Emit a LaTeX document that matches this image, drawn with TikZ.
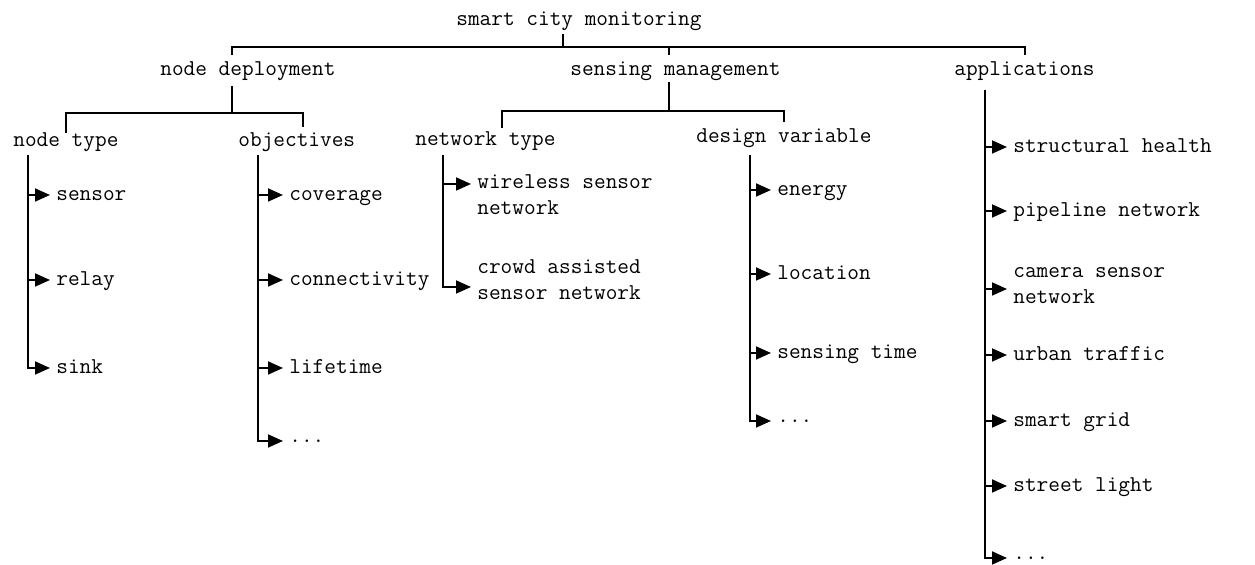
\documentclass[tikz,border=0pt]{standalone}
\usepackage{fontspec}
\usetikzlibrary{arrows.meta}
\begin{document}
\begin{tikzpicture}[x=0.5pt,y=-0.5pt,
 lbl/.style={inner sep=0pt, anchor=west, font=\ttfamily\fontsize{11.33}{13}\selectfont, text height=7.5pt, text depth=2.2pt},
 lbl2/.style={inner sep=0pt, anchor=west, font=\ttfamily\fontsize{11.33}{13}\selectfont, align=left},
 dotsnode/.style={inner sep=0pt, anchor=west, font=\ttfamily\fontsize{11.33}{13}\selectfont, text height=1.2pt, text depth=0pt},
 ln/.style={line width=0.9pt},
 arr/.style={ln, -{Triangle[length=7.5pt,width=6.5pt]}}]
\useasboundingbox[fill=white] (0,0) rectangle (1255,565);
% level 0/1
\node[lbl] (root) at (456,20) {smart city monitoring};
\node[lbl] (nd) at (160,70) {node deployment};
\node[lbl] (sm) at (570,70) {sensing management};
\node[lbl] (app) at (954,70) {applications};
% level 2
\node[lbl] (nt) at (13,141) {node type};
\node[lbl] (obj) at (238,141) {objectives};
\node[lbl] (nwt) at (415,140) {network type};
\node[lbl] (dv) at (696,137) {design variable};
% leaves
\node[lbl] (sensor) at (56,195) {sensor};
\node[lbl] (relay) at (56,280) {relay};
\node[lbl] (sink) at (56,368) {sink};
\node[lbl] (cov) at (289,195) {coverage};
\node[lbl] (con) at (289,280) {connectivity};
\node[lbl] (life) at (289,368) {lifetime};
\node[dotsnode] (dotsA) at (289,441) {...};
\node[lbl2] (wsn) at (477,195) {wireless sensor\\network};
\node[lbl2] (csn) at (477,280) {crowd assisted\\sensor network};
\node[lbl] (energy) at (777,190) {energy};
\node[lbl] (loc) at (777,274) {location};
\node[lbl] (st) at (777,353) {sensing time};
\node[dotsnode] (dotsB) at (777,421) {...};
\node[lbl] (sh) at (1013,147) {structural health};
\node[lbl] (pipe) at (1013,211) {pipeline network};
\node[lbl2] (cam) at (1013,286) {camera sensor\\network};
\node[lbl] (urban) at (1013,355) {urban traffic};
\node[lbl] (grid) at (1013,421) {smart grid};
\node[lbl] (light) at (1013,486) {street light};
\node[dotsnode] (dotsC) at (1013,558) {...};
% junction coordinates
\coordinate (rJ) at (563,47);
\coordinate (ndTop) at (232,55);
\coordinate (smTop) at (669,55);
\coordinate (appTop) at (1025,55);
\coordinate (ndJ) at (232,113);
\coordinate (ntTop) at (66,133);
\coordinate (objTop) at (303,127);
\coordinate (smJ) at (669,111);
\coordinate (nwtTop) at (502,128);
\coordinate (dvTop) at (784,122);
\coordinate (ntT) at (28,155);
\coordinate (objT) at (258,155);
\coordinate (nwtT) at (443,155);
\coordinate (dvT) at (750,155);
\coordinate (appT) at (985,90);
% tree lines
\draw[ln] ([yshift=-2pt]root.south -| rJ) -- (rJ);
\draw[ln] (ndTop) -- (ndTop |- rJ) -- (appTop |- rJ) -- (appTop);
\draw[ln] (smTop |- rJ) -- (smTop);
\draw[ln] ([yshift=-3pt]nd.south -| ndJ) -- (ndJ);
\draw[ln] (ntTop) -- (ntTop |- ndJ) -- (objTop |- ndJ) -- (objTop);
\draw[ln] ([yshift=-1pt]sm.south -| smJ) -- (smJ);
\draw[ln] (nwtTop) -- (nwtTop |- smJ) -- (dvTop |- smJ) -- (dvTop);
% arrows
\foreach \n in {sensor,relay,sink} \draw[arr] (ntT) |- ([xshift=-3pt]\n.west);
\foreach \n in {cov,con,life,dotsA} \draw[arr] (objT) |- ([xshift=-3pt]\n.west);
\draw[arr] (nwtT) |- ([xshift=-3pt,yshift=5.5pt]wsn.west);
\draw[arr] (nwtT) |- ([xshift=-3pt,yshift=-3.5pt]csn.west);
\foreach \n in {energy,loc,st,dotsB} \draw[arr] (dvT) |- ([xshift=-3pt]\n.west);
\foreach \n in {sh,pipe,urban,grid,light,dotsC} \draw[arr] (appT) |- ([xshift=-3pt]\n.west);
\draw[arr] (appT) |- ([xshift=-3pt,yshift=-1.5pt]cam.west);
\end{tikzpicture}
\end{document}
